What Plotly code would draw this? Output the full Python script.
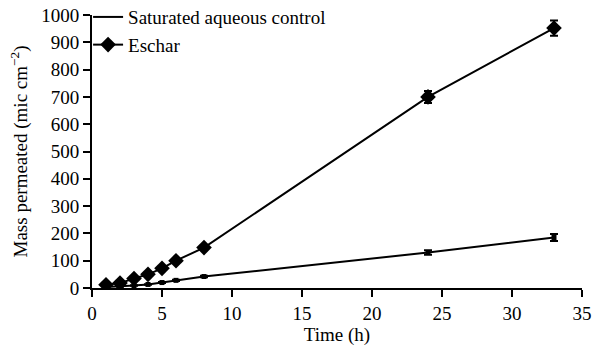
import plotly.graph_objects as go

time_h = [1, 2, 3, 4, 5, 6, 8, 24, 33]
control = [4, 6, 9, 13, 20, 28, 42, 130, 185]
control_err = [1, 1, 1, 1, 2, 2, 3, 8, 13]
eschar = [12, 18, 35, 50, 72, 100, 148, 700, 952]
eschar_err = [3, 3, 4, 4, 5, 6, 8, 22, 28]

fig = go.Figure()
fig.add_trace(go.Scatter(
    x=time_h, y=control, name="Saturated aqueous control",
    mode="lines+markers", showlegend=False,
    line=dict(color="black", width=2),
    marker=dict(symbol="square", size=5, color="black"),
    error_y=dict(type="data", array=control_err, color="black", thickness=2, width=4),
))
# legend entry for the control series (line only, as in the original legend)
fig.add_trace(go.Scatter(
    x=[None], y=[None], name="Saturated aqueous control",
    mode="lines", line=dict(color="black", width=2),
))
fig.add_trace(go.Scatter(
    x=time_h, y=eschar, name="Eschar",
    mode="lines+markers",
    line=dict(color="black", width=2),
    marker=dict(symbol="diamond", size=12, color="black"),
    error_y=dict(type="data", array=eschar_err, color="black", thickness=2, width=4),
))

font = dict(family="Liberation Serif, Times New Roman, serif", size=19, color="black")
fig.update_layout(
    width=593, height=346,
    autosize=False,
    margin=dict(l=92, r=11, t=15, b=58, autoexpand=False),
    paper_bgcolor="white", plot_bgcolor="white",
    font=font,
    showlegend=True,
    legend=dict(x=-0.008, y=1.062, xanchor="left", yanchor="top",
                bgcolor="rgba(0,0,0,0)", font=font, tracegroupgap=0,
                itemwidth=30),
    xaxis=dict(range=[0, 35], tickvals=[0, 5, 10, 15, 20, 25, 30, 35],
               automargin=False,
               showgrid=False, zeroline=False, showline=True, linecolor="black",
               linewidth=2, ticks="outside", ticklen=7, tickwidth=2, tickcolor="black",
               ticklabeloverflow="allow",
               title=dict(text="Time (h)", font=font, standoff=0)),
    yaxis=dict(range=[0, 1000], tickvals=list(range(0, 1001, 100)),
               automargin=False,
               showgrid=False, zeroline=False, showline=True, linecolor="black",
               linewidth=2, ticks="outside", ticklen=7, tickwidth=2, tickcolor="black"),
    annotations=[dict(text="Mass permeated (mic cm<sup>\u22122</sup>)",
                      xref="paper", yref="paper", x=-0.147, y=0.5,
                      xanchor="center", yanchor="middle", textangle=-90,
                      showarrow=False, font=font)],
)
fig.write_html("out.html", config={"displayModeBar": False},
               post_script="document.body.style.margin='0';document.body.style.padding='0';")
